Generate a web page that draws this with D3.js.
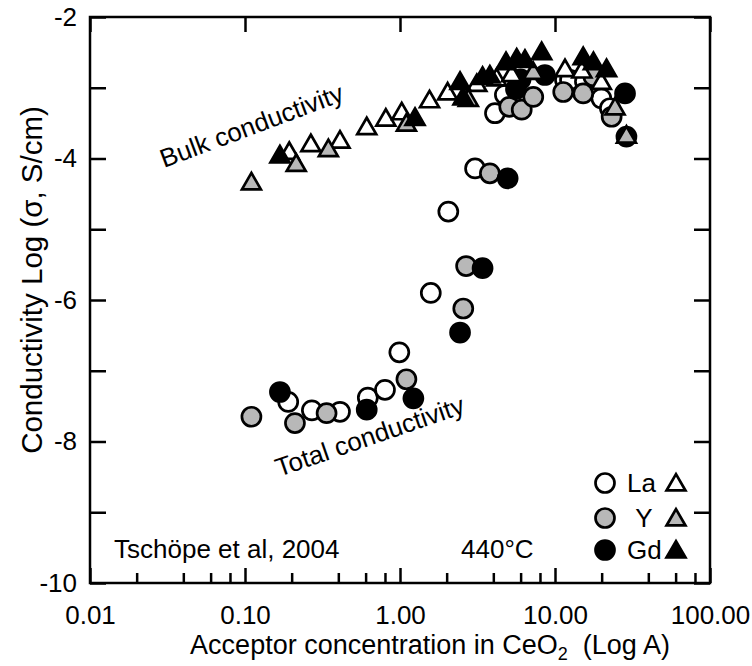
<!DOCTYPE html>
<html>
<head>
<meta charset="utf-8">
<script src="https://cdn.jsdelivr.net/npm/d3@7"></script>
<style>
  body { margin: 0; background: #fff; }
  svg { display: block; font-family: "Liberation Sans", Arial, sans-serif; }
  .axis path, .axis line { stroke: #000; stroke-width: 2.5; }
  .axis text { font-size: 26px; fill: #000; font-family: "Liberation Sans", Arial, sans-serif; }
</style>
</head>
<body>
<div id="chart"></div>
<script>
// total conductivity (circles)
const laTotalConc = [0.19, 0.27, 0.41, 0.62, 0.80, 0.99, 1.58, 2.05, 3.05, 4.1, 4.75, 11.6, 12.5, 15.6, 19.9, 22.6];
const laTotalLog  = [-7.44, -7.56, -7.58, -7.38, -7.27, -6.74, -5.90, -4.75, -4.14, -3.36, -3.10, -2.89, -2.89, -2.91, -3.15, -3.29];
const yTotalConc  = [0.11, 0.21, 0.336, 1.10, 2.56, 2.67, 3.8, 5.07, 6.1, 7.24, 11.3, 15.2, 17.7, 23.2];
const yTotalLog   = [-7.65, -7.74, -7.60, -7.12, -6.12, -5.52, -4.21, -3.27, -3.31, -3.13, -3.06, -3.08, -2.84, -3.41];
const gdTotalConc = [0.168, 0.61, 1.22, 2.44, 3.41, 4.95, 5.6, 6.0, 8.6, 28.3, 28.9];
const gdTotalLog  = [-7.30, -7.55, -7.39, -6.46, -5.55, -4.28, -3.02, -2.88, -2.82, -3.08, -3.69];

// bulk conductivity (triangles)
const laBulkConc = [0.193, 0.266, 0.41, 0.61, 0.81, 1.026, 1.55, 2.03, 3.13, 4.2, 5.25, 11.6, 14.9, 19.9];
const laBulkLog  = [-3.90, -3.79, -3.74, -3.55, -3.43, -3.34, -3.17, -3.06, -2.94, -2.86, -2.80, -2.73, -2.75, -2.91];
const yBulkConc  = [0.11, 0.214, 0.345, 1.10, 2.76, 7.24, 24.4, 28.9];
const yBulkLog   = [-4.33, -4.07, -3.86, -3.50, -3.15, -2.77, -3.27, -3.67];
const gdBulkConc = [0.168, 1.25, 2.44, 2.55, 3.41, 3.8, 4.83, 5.66, 6.4, 8.2, 15.2, 17.7, 21.5];
const gdBulkLog  = [-3.95, -3.42, -2.91, -3.13, -2.84, -2.82, -2.63, -2.58, -2.60, -2.49, -2.56, -2.63, -2.73];

const xTicks = [0.01, 0.1, 1, 10, 100];
const xTickLabels = ["0.01", "0.10", "1.00", "10.00", "100.00"];
const yTicks = [-10, -9, -8, -7, -6, -5, -4, -3, -2];

const dopants = ["La", "Y", "Gd"];
const fills = ["#fff", "#b8b8b8", "#000"];

const width = 752, height = 666;
const margin = {left: 90, right: 42, top: 17, bottom: 83};

const svg = d3.select("#chart").append("svg")
    .attr("width", width).attr("height", height);

const x = d3.scaleLog().domain([0.01, 100]).range([margin.left, width - margin.right]);
const y = d3.scaleLinear().domain([-10, -2]).range([height - margin.bottom, margin.top]);

//坐标轴
const minorTicks = [];
[0.01, 0.1, 1, 10].forEach(d => [2, 4, 6, 8].forEach(m => minorTicks.push(d * m)));

svg.append("g").attr("class", "axis")
    .attr("transform", `translate(0,${y(-10)})`)
    .call(d3.axisBottom(x).tickValues(minorTicks).tickSize(-10).tickFormat(""))
    .select(".domain").remove();

svg.append("g").attr("class", "axis")
    .attr("transform", `translate(0,${y(-10)})`)
    .call(d3.axisBottom(x).tickValues(xTicks).tickSize(-15).tickPadding(23)
        .tickFormat((d, i) => xTickLabels[i]))
    .select(".domain").remove();

svg.append("g").attr("class", "axis")
    .attr("transform", `translate(0,${y(-2)})`)
    .call(d3.axisTop(x).tickValues(xTicks).tickSize(-15).tickFormat(""))
    .select(".domain").remove();

svg.append("g").attr("class", "axis")
    .attr("transform", `translate(${x(0.01)},0)`)
    .call(d3.axisLeft(y).tickValues(yTicks).tickSize(-16).tickPadding(13)
        .tickFormat(d => d % 2 === 0 ? d : ""))
    .select(".domain").remove();

svg.append("g").attr("class", "axis")
    .attr("transform", `translate(${x(100)},0)`)
    .call(d3.axisRight(y).tickValues(yTicks).tickSize(-16).tickFormat(""))
    .select(".domain").remove();

// frame
svg.append("rect")
    .attr("x", x(0.01)).attr("y", y(-2))
    .attr("width", x(100) - x(0.01)).attr("height", y(-10) - y(-2))
    .attr("fill", "none").attr("stroke", "#000").attr("stroke-width", 2.5);

//数据点
const circleSets = [[laTotalConc, laTotalLog], [yTotalConc, yTotalLog], [gdTotalConc, gdTotalLog]];
const triSets = [[laBulkConc, laBulkLog], [yBulkConc, yBulkLog], [gdBulkConc, gdBulkLog]];
const tri = d3.symbol().type(d3.symbolTriangle).size(155);

circleSets.forEach((s, i) => {
    svg.append("g").selectAll("circle")
        .data(s[0].map((c, j) => [c, s[1][j]]))
        .join("circle")
        .attr("cx", d => x(d[0])).attr("cy", d => y(d[1]))
        .attr("r", 9.5)
        .attr("fill", fills[i]).attr("stroke", "#000").attr("stroke-width", 2.7);
});

triSets.forEach((s, i) => {
    svg.append("g").selectAll("path")
        .data(s[0].map((c, j) => [c, s[1][j]]))
        .join("path")
        .attr("d", tri)
        .attr("transform", d => `translate(${x(d[0])},${y(d[1]) + 2})`)
        .attr("fill", fills[i]).attr("stroke", "#000").attr("stroke-width", 2.7);
});

//标注文字
svg.append("text")
    .attr("transform", "translate(164,168) rotate(-20.5)")
    .attr("font-size", 26).text("Bulk conductivity");

svg.append("text")
    .attr("transform", "translate(279,477) rotate(-19)")
    .attr("font-size", 26).text("Total conductivity");

svg.append("text").attr("x", 114).attr("y", 558)
    .attr("font-size", 26).text("Tschöpe et al, 2004");

svg.append("text").attr("x", 461).attr("y", 558)
    .attr("font-size", 26).text("440°C");

// legend
const legendY = [483, 518, 550];
dopants.forEach((name, i) => {
    svg.append("circle")
        .attr("cx", 605).attr("cy", legendY[i]).attr("r", 9.5)
        .attr("fill", fills[i]).attr("stroke", "#000").attr("stroke-width", 2.7);
    svg.append("text")
        .attr("x", name === "Y" ? 644 : 627).attr("y", legendY[i] + 9)
        .attr("text-anchor", name === "Y" ? "middle" : "start")
        .attr("font-size", 26).text(name);
    svg.append("path")
        .attr("d", tri)
        .attr("transform", `translate(676,${legendY[i] + 2})`)
        .attr("fill", fills[i]).attr("stroke", "#000").attr("stroke-width", 2.7);
});

// axis titles
const xt = svg.append("text")
    .attr("x", 430).attr("y", 654)
    .attr("text-anchor", "middle").attr("font-size", 27);
xt.append("tspan").text("Acceptor concentration in CeO");
xt.append("tspan").attr("dy", 6).attr("font-size", 18).text("2");
xt.append("tspan").attr("dy", -6).text("\u00a0 (Log A)");

svg.append("text")
    .attr("transform", "translate(42,280) rotate(-90)")
    .attr("text-anchor", "middle").attr("font-size", 29.5)
    .text("Conductivity Log (σ, S/cm)");
</script>
</body>
</html>
